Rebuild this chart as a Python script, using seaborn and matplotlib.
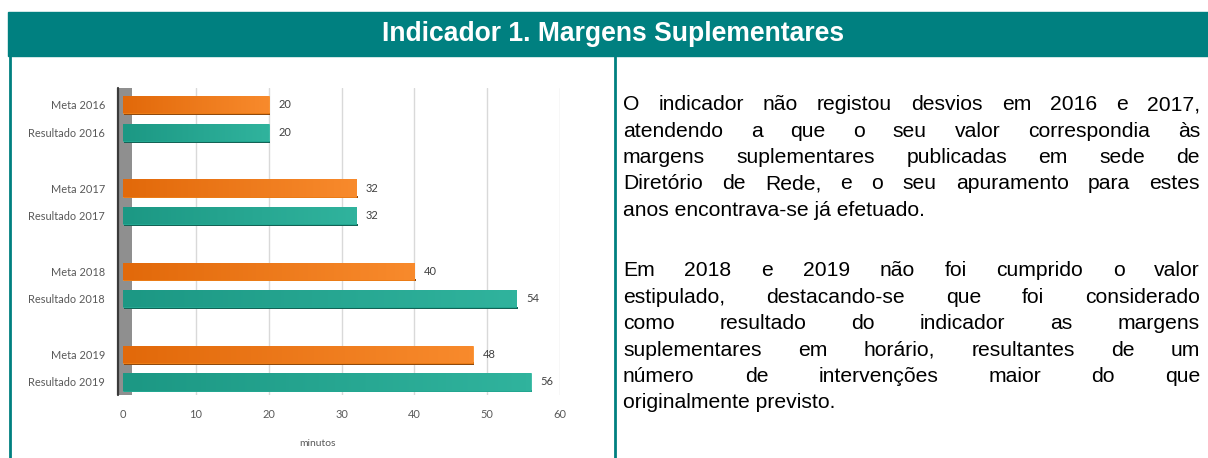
import matplotlib
matplotlib.use("Agg")
import matplotlib.pyplot as plt
from matplotlib.patches import Rectangle
from matplotlib.lines import Line2D
from matplotlib.colors import LinearSegmentedColormap
import numpy as np
import seaborn as sns
import pandas as pd

# ---------------- data ----------------
categories = ["Meta 2016", "Resultado 2016", "Meta 2017", "Resultado 2017",
              "Meta 2018", "Resultado 2018", "Meta 2019", "Resultado 2019"]
series = ["Meta", "Resultado", "Meta", "Resultado",
          "Meta", "Resultado", "Meta", "Resultado"]
values = [20, 20, 32, 32, 40, 54, 48, 56]
x_ticks = [0, 10, 20, 30, 40, 50, 60]
x_label = "minutos"
title = "Indicador 1. Margens Suplementares"
para1 = ["O indicador não registou desvios em 2016 e 2017,",
         "atendendo a que o seu valor correspondia às",
         "margens suplementares publicadas em sede de",
         "Diretório de Rede, e o seu apuramento para estes",
         "anos encontrava-se já efetuado."]
para2 = ["Em 2018 e 2019 não foi cumprido o valor",
         "estipulado, destacando-se que foi considerado",
         "como resultado do indicador as margens",
         "suplementares em horário, resultantes de um",
         "número de intervenções maior do que",
         "originalmente previsto."]

# ---------------- style ----------------
TEAL = "#008080"
ORANGE = "#EE7A16"
GREEN = "#22A48E"
GRADS = {ORANGE: ("#E2690A", "#F88A2C"), GREEN: ("#1C9884", "#30B39D")}
GRAY_TXT = "#595959"

sns.set_theme(style="white")
plt.rcParams['font.family'] = ['Lato', 'DejaVu Sans']

W, H = 1208, 458
fig = plt.figure(figsize=(W / 100, H / 100), dpi=100)
fig.patch.set_facecolor("white")

# header band and frame lines
fig.add_artist(Rectangle((8 / W, 1 - 56 / H), (W - 8) / W, 44 / H,
                         transform=fig.transFigure, color=TEAL, zorder=0))
fig.add_artist(Line2D([9.5 / W, 9.5 / W], [1 - 56 / H, 0], transform=fig.transFigure,
                      color=TEAL, lw=2))
fig.add_artist(Line2D([614.5 / W, 614.5 / W], [1 - 56 / H, 0], transform=fig.transFigure,
                      color=TEAL, lw=2))

renderer = fig.canvas.get_renderer()


def fit_size(text, target_px, base=12, **kw):
    t = fig.text(0, 0, text, fontsize=base, **kw)
    w = t.get_window_extent(renderer).width
    t.remove()
    return base * target_px / w


# header title
tsize = fit_size(title, 461, family=["Liberation Sans"], weight="bold")
fig.text(613.5 / W, 1 - 34 / H, title, fontsize=tsize, family=["Liberation Sans"],
         weight="bold", color="white", ha="center", va="center")

# ---------------- chart ----------------
spacers = [" ", "  ", "   "]
order = [categories[0], categories[1], spacers[0], categories[2], categories[3],
         spacers[1], categories[4], categories[5], spacers[2], categories[6], categories[7]]
df = pd.DataFrame({"categoria": categories, "serie": series, "valor": values})

ax = fig.add_axes([123 / W, 1 - 395 / H, 437 / W, 307 / H])
sns.barplot(data=df, y="categoria", x="valor", hue="serie", order=order,
            palette={"Meta": ORANGE, "Resultado": GREEN}, dodge=False,
            width=0.62, saturation=1, legend=False, ax=ax, zorder=3)

ax.set_xlim(x_ticks[0], x_ticks[-1])
ax.set_ylim(10.47, -0.61)

# 3D-ish shading: gradient fill + darker bottom face on every bar
for p in list(ax.patches):
    if p.get_width() <= 0:
        continue
    x0, y0 = p.get_x(), p.get_y()
    w, h = p.get_width(), p.get_height()
    fc = p.get_facecolor()
    key = ORANGE if fc[0] > 0.5 else GREEN
    cmap = LinearSegmentedColormap.from_list("g", GRADS[key])
    dark = tuple(c * 0.6 for c in fc[:3])
    ax.add_patch(Rectangle((x0 + 0.2, y0 + h * 0.96), w, h * 0.14,
                           color=dark, zorder=2.5, lw=0))
    im = ax.imshow(np.linspace(0, 1, 64).reshape(1, -1), cmap=cmap, aspect="auto",
                   extent=(x0, x0 + w, y0 + h, y0), zorder=3.2, interpolation="bilinear")
    im.set_clip_path(p)
    p.set_edgecolor(tuple(min(1, c * 1.12) for c in fc[:3]))
    p.set_linewidth(0.5)

for cont in ax.containers:
    ax.bar_label(cont, padding=7, fontsize=8, color="#404040")

ax.set_xlim(x_ticks[0], x_ticks[-1])
ax.set_ylim(10.47, -0.61)
ax.set_xticks(x_ticks)
ax.set_xticklabels([str(v) for v in x_ticks])
ax.grid(axis="x", color="#D9D9D9", lw=1)
ax.grid(axis="y", visible=False)
ax.set_axisbelow(True)
for s in ax.spines.values():
    s.set_visible(False)

# side wall
ax.axvspan(-0.7, 1.3, color="#8F8F8F", zorder=1, clip_on=False, lw=0)
ax.axvline(-0.7, color="#3A3A3A", lw=1.6, clip_on=False, zorder=1.2)

ax.tick_params(axis="both", length=0, labelsize=7.9, colors=GRAY_TXT)
ax.tick_params(axis="y", pad=13)
ax.tick_params(axis="x", pad=10)
ax.set_ylabel("")
ax.set_xlabel(x_label, fontsize=7.5, color=GRAY_TXT)
ax.xaxis.set_label_coords((318 - 123) / 437, (395 - 443) / 307)
ax.xaxis.label.set_va("center")

# ---------------- justified paragraphs ----------------
psize = 15.2
LEFT, RIGHT = 623, 1200
BASE_OFF = 6.5  # px from visual line centre down to baseline


def draw_para(lines, y0, step):
    for i, line in enumerate(lines):
        y = 1 - (y0 + i * step + BASE_OFF) / H
        words = line.split()
        last = i == len(lines) - 1
        if last:
            fig.text(LEFT / W, y, line, fontsize=psize, family=["Liberation Sans"],
                     color="black", ha="left", va="baseline")
            continue
        objs = [fig.text(0, y, wd, fontsize=psize, family=["Liberation Sans"],
                         color="black", ha="left", va="baseline") for wd in words]
        widths = [o.get_window_extent(renderer).width for o in objs]
        gap = (RIGHT - LEFT - sum(widths)) / (len(words) - 1)
        x = LEFT
        for o, wdt in zip(objs, widths):
            o.set_x(x / W)
            x += wdt + gap


draw_para(para1, 104, 26.3)
draw_para(para2, 270, 26.4)

fig.savefig("out.png", dpi=100)
